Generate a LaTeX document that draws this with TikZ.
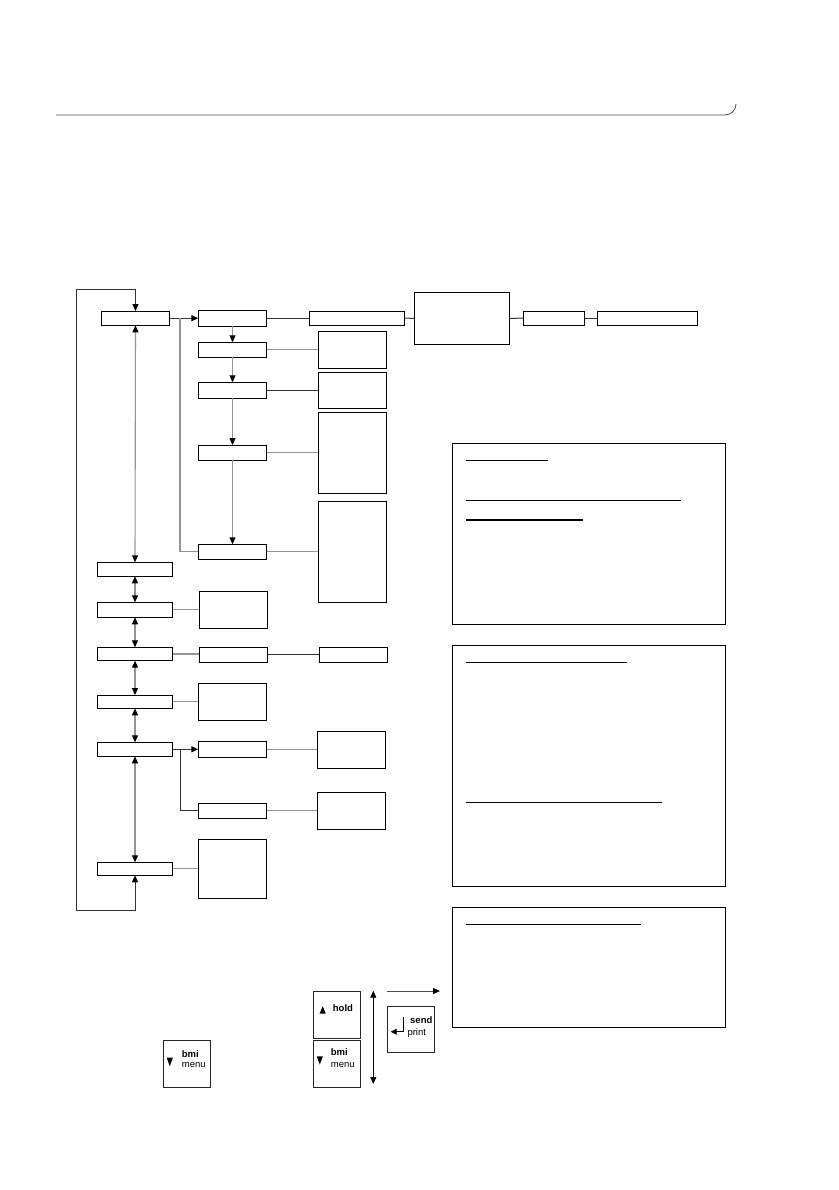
\documentclass[tikz,border=0pt]{standalone}
\usepackage{fontspec}
\setmainfont{Liberation Sans}
\usetikzlibrary{arrows.meta}
\begin{document}
\begin{tikzpicture}[x=1pt,y=-1pt,
  bx/.style={draw=black,line width=1.1pt,rectangle,inner sep=0pt,outer sep=0pt},
  keybox/.style={draw=black!85,line width=0.9pt,rectangle,inner sep=0pt,outer sep=0pt,minimum width=47pt,minimum height=47pt},
  gconn/.style={draw=black!42,line width=1.1pt},
  dconn/.style={draw=black!80,line width=1pt},
  tip/.style={-{Triangle[length=7pt,width=6pt,color=black]}},
  dtip/.style={{Triangle[length=7pt,width=6pt,color=black]}-{Triangle[length=7pt,width=6pt,color=black]}},
  uline/.style={draw=black,line width=1.1pt},
  keytxt/.style={anchor=west,inner sep=0pt,font=\fontsize{9.5}{11}\selectfont},
  keybold/.style={keytxt,font=\fontsize{9.5}{11}\selectfont\bfseries}
]
\useasboundingbox[fill=white] (0,0) rectangle (838,1190);

% header rule
\draw[black!70,line width=0.8pt] (56,115) -- (725,115) arc[start angle=90,end angle=0,radius=11];

% main left column
\node[bx,minimum width=68.4pt,minimum height=14.3pt] (A) at (135.5,318.2) {};
\node[bx,minimum width=75.4pt,minimum height=14pt] (L1) at (135,569.3) {};
\node[bx,minimum width=75pt,minimum height=15pt] (L2) at (135,609.8) {};
\node[bx,minimum width=75.4pt,minimum height=13.4pt] (L3) at (135,654) {};
\node[bx,minimum width=75.4pt,minimum height=13.3pt] (L4) at (135,701.7) {};
\node[bx,minimum width=75.4pt,minimum height=14pt] (L5) at (135,749.3) {};
\node[bx,minimum width=75.4pt,minimum height=13pt] (L6) at (135,868.8) {};

% second column
\node[bx,minimum width=68.4pt,minimum height=16pt] (B) at (232.5,318.2) {};
\node[bx,minimum width=68.4pt,minimum height=15pt] (B2) at (232.5,349.8) {};
\node[bx,minimum width=68.4pt,minimum height=16pt] (B3) at (232.5,390.3) {};
\node[bx,minimum width=68.4pt,minimum height=15.3pt] (B4) at (232.5,452.7) {};
\node[bx,minimum width=68.4pt,minimum height=15pt] (B5) at (232.5,551.8) {};
\node[bx,minimum width=68.4pt,minimum height=37pt] (M2) at (233.5,609.8) {};
\node[bx,minimum width=68.4pt,minimum height=15pt] (N3) at (233.5,654.8) {};
\node[bx,minimum width=68.4pt,minimum height=37pt] (M4) at (232.5,701.8) {};
\node[bx,minimum width=68.4pt,minimum height=16.3pt] (B6) at (232.5,749.2) {};
\node[bx,minimum width=68.4pt,minimum height=15pt] (B7) at (232.5,810.8) {};
\node[bx,minimum width=68.4pt,minimum height=59pt] (M6) at (232.5,868.8) {};

% third column
\node[bx,minimum width=95pt,minimum height=14.3pt] (C) at (356.8,318.2) {};
\node[bx,minimum width=68.4pt,minimum height=37.3pt] (S1) at (352.5,349.7) {};
\node[bx,minimum width=68.4pt,minimum height=36pt] (S2) at (352.5,390.3) {};
\node[bx,minimum width=68.4pt,minimum height=81pt] (S3) at (352.5,452.8) {};
\node[bx,minimum width=68.4pt,minimum height=101pt] (S4) at (352.5,551.8) {};
\node[bx,minimum width=68.4pt,minimum height=15pt] (O3) at (353.5,654.8) {};
\node[bx,minimum width=68.4pt,minimum height=37.3pt] (P6) at (351.5,749.7) {};
\node[bx,minimum width=68.4pt,minimum height=37pt] (P7) at (351.5,810.8) {};

% top row right
\node[bx,minimum width=95.2pt,minimum height=52pt] (D) at (461.9,318.3) {};
\node[bx,minimum width=61.4pt,minimum height=14.3pt] (E) at (554,318.2) {};
\node[bx,minimum width=100pt,minimum height=14.3pt] (F) at (647.3,318.2) {};

% right info boxes
\node[bx,minimum width=273.4pt,minimum height=180.7pt] (R1) at (589,533.7) {};
\node[bx,minimum width=273.4pt,minimum height=241pt] (R2) at (589,765.8) {};
\node[bx,minimum width=273.4pt,minimum height=120.4pt] (R3) at (589,967.5) {};
\draw[uline] (466,460.3) -- (547.7,460.3);
\draw[uline] (466,500.3) -- (680.7,500.3);
\draw[uline] (466,520) -- (583.3,520);
\draw[uline] (466,662.3) -- (627,662.3);
\draw[uline] (466,802.3) -- (661.7,802.3);
\draw[uline] (466,924.3) -- (641,924.3);

% loop
\coordinate (lt) at (76,289.3);
\coordinate (lb) at (76,910.3);
\draw[dconn,dtip] (A.north) |- (lt) -- (lb) -| (L6.south);

% left column double arrows
\draw[gconn,dtip] (A.south) -- (L1.north);
\draw[gconn,dtip] (L1.south) -- (L2.north);
\draw[gconn,dtip] (L2.south) -- (L3.north);
\draw[gconn,dtip] (L3.south) -- (L4.north);
\draw[gconn,dtip] (L4.south) -- (L5.north);
\draw[gconn,dtip] (L5.south) -- (L6.north);

% A -> B and branch
\draw[dconn,tip] (A.east) -- (B.west);
\coordinate (br1) at (180,318.2);
\draw[gconn] (br1) |- (B5.west);

% B column arrows
\draw[gconn,tip] (B.south) -- (B2.north);
\draw[gconn,tip] (B2.south) -- (B3.north);
\draw[gconn,tip] (B3.south) -- (B4.north);
\draw[gconn,tip] (B4.south) -- (B5.north);

% top row lines
\draw[dconn] (B.east) -- (C.west);
\draw[dconn] (C.east) -- (D.west);
\draw[dconn] (D.east) -- (E.west);
\draw[dconn] (E.east) -- (F.west);

% side links
\draw[gconn] (B2.east) -- (B2.east -| S1.west);
\draw[dconn] (B3.east) -- (B3.east -| S2.west);
\draw[gconn] (B4.east) -- (B4.east -| S3.west);
\draw[gconn] (B5.east) -- (B5.east -| S4.west);
\draw[gconn] (L2.east) -- (L2.east -| M2.west);
\draw[gconn] (L3.east) -- (L3.east -| N3.west);
\draw[dconn] (N3.east) -- (O3.west);
\draw[gconn] (L4.east) -- (L4.east -| M4.west);
\draw[dconn,tip] (L5.east) -- (L5.east -| B6.west);
\draw[gconn] (B6.east) -- (B6.east -| P6.west);
\coordinate (br2) at (180.7,749.3);
\draw[dconn] (br2) |- (B7.west);
\draw[gconn] (B7.east) -- (B7.east -| P7.west);
\draw[gconn] (L6.east) -- (L6.east -| M6.west);

% keys
\node[keybox] (K1) at (186.8,1064) {};
\node[keybox] (K2) at (337,1014.8) {};
\node[keybox] (K3) at (337,1064) {};
\node[keybox,minimum height=46.3pt] (K4) at (410.8,1029.2) {};

\fill (166.7,1057.5) -- (172.9,1057.5) -- (169.8,1066.3) -- cycle;
\node[keybold] (t1) at (181.7,1054.3) {bmi};
\node[keytxt] (t2) at (181.7,1065.3) {menu};

\fill (319.6,1013.5) -- (325.8,1013.5) -- (322.7,1006.3) -- cycle;
\node[keybold] (t3) at (332.7,1007.7) {hold};

\fill (316.7,1056.3) -- (322.9,1056.3) -- (319.8,1064.5) -- cycle;
\node[keybold] (t4) at (330.7,1052.3) {bmi};
\node[keytxt] (t5) at (330.7,1065) {menu};

\node[keybold] (t6) at (410,1020) {send};
\node[keytxt] (t7) at (407.3,1033.3) {print};
\coordinate (ra) at (403.3,1017);
\coordinate (rb) at (390.7,1031.7);
\draw[black,line width=0.9pt,-{Triangle[length=6pt,width=6pt]}] (ra) |- (rb);

% navigation arrows
\coordinate (va1) at (373.3,990.7);
\coordinate (va2) at (373.3,1084);
\draw[black,line width=0.9pt,dtip] (va1) -- (va2);
\coordinate (ha1) at (386.7,991);
\coordinate (ha2) at (440,991);
\draw[black!70,line width=0.9pt,tip] (ha1) -- (ha2);
\end{tikzpicture}
\end{document}
